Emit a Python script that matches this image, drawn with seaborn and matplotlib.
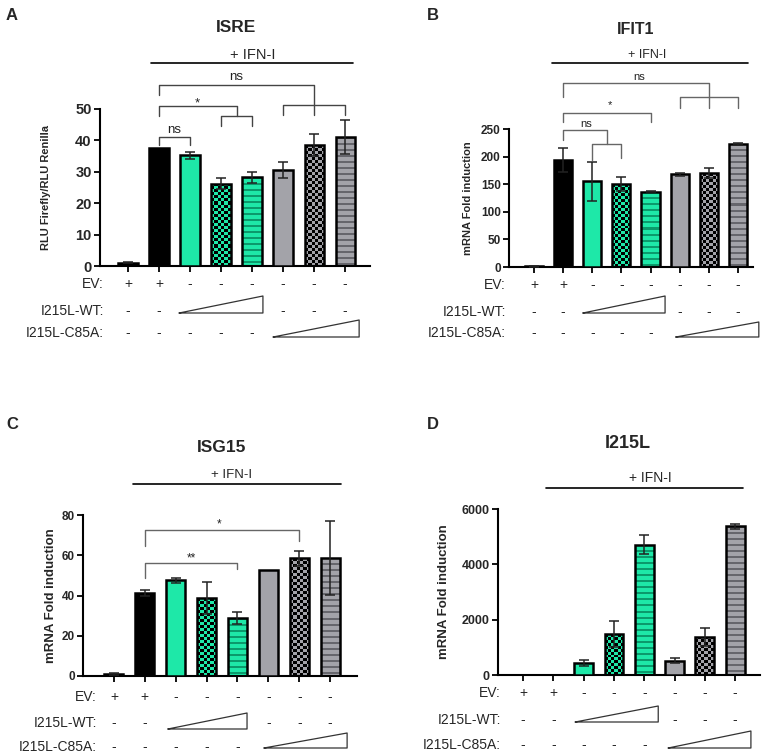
import numpy as np
import pandas as pd
import matplotlib
matplotlib.use("Agg")
import matplotlib.pyplot as plt
import matplotlib.transforms as mtransforms
from matplotlib.colors import ListedColormap
import seaborn as sns

# ---------------- data ----------------
groups = ["EV", "EV+IFN", "WT-1", "WT-2", "WT-3", "C85A-1", "C85A-2", "C85A-3"]

isre_mean = [1.0, 37.5, 35.2, 26.2, 28.2, 30.5, 38.5, 41.0]
isre_err = [0.2, 0.0, 1.0, 1.8, 1.8, 2.5, 3.5, 5.4]
ifit1_mean = [1.0, 194, 155, 150, 136, 168, 170, 223]
ifit1_err = [1.5, 21, 36, 13, 1, 3, 9, 2]
isg15_mean = [1.0, 41.2, 47.6, 38.6, 28.6, 52.6, 58.5, 58.8]
isg15_err = [0.4, 1.6, 1.3, 8.0, 3.0, 0.0, 3.8, 18.4]
i215l_mean = [0, 0, 430, 1480, 4710, 515, 1385, 5370]
i215l_err = [0, 0, 115, 455, 335, 95, 325, 80]

ev_signs = ["+", "+", "-", "-", "-", "-", "-", "-"]
wt_signs = ["-", "-", "", "", "", "-", "-", "-"]
c85a_signs = ["-", "-", "-", "-", "-", "", "", ""]
row_labels = ["EV:", "I215L-WT:", "I215L-C85A:"]

titles = ["ISRE", "IFIT1", "ISG15", "I215L"]
letters = ["A", "B", "C", "D"]
ylabels = ["RLU Firefly/RLU Renilla", "mRNA Fold induction",
           "mRNA Fold induction", "mRNA Fold induction"]
ifn_label = "+ IFN-I"

GREEN = "#1ee8a8"
GREEN_DARK = "#0b9a6c"
GRAY = "#a3a3a9"
GRAY_DARK = "#66666c"
bar_colors = ["#000000", "#000000", GREEN, GREEN, GREEN, GRAY, GRAY, GRAY]
dark_colors = ["#000000", "#000000", "#000000", "#000000", GREEN_DARK,
               "#000000", "#000000", GRAY_DARK]
patterns = ["", "", "", "checker", "stripes", "", "checker", "stripes"]

# ---------------- style ----------------
sns.set_theme(style="ticks")
plt.rcParams["font.family"] = ["Liberation Sans", "DejaVu Sans"]

W, H = 767, 753
fig = plt.figure(figsize=(W / 100, H / 100), dpi=100)


def fy(py):
    return 1 - py / H


panels = [
    dict(mean=isre_mean, err=isre_err, rect=(100, 370, 109, 266), xlim=(-0.9, 7.8),
         ylim=(0, 50), ystep=10, tick_fs=10.5, ylab_fs=8, ylab_x=51,
         title=(3.48, 27, 12.5), ifn=(4.03, 55, 0.74, 7.26, 63, 10.5),
         rows=(284, 311, 333), lab_x=-0.78, tri_wt=(1.65, 4.35, 313, 296),
         tri_c=(4.68, 7.45, 337, 320), letter=(12, 16),
         brackets=[([1, 1, 6, 6], [95, 85, 85, 115]),
                   ([5, 5, 7, 7], [115, 105, 105, 115]),
                   ([1, 1, 3.5, 3.5], [116, 106, 106, 116]),
                   ([3, 3, 4, 4], [126, 116, 116, 126]),
                   ([1, 1, 2, 2], [145, 137, 137, 145])],
         btexts=[("ns", 3.5, 77, 9.5), ("*", 2.23, 103, 9.5), ("ns", 1.5, 130, 9.5)],
         bcolor="#444444"),
    dict(mean=ifit1_mean, err=ifit1_err, rect=(509, 753, 129, 267), xlim=(-0.86, 7.52),
         ylim=(0, 250), ystep=50, tick_fs=8.5, ylab_fs=8, ylab_x=473,
         title=(3.5, 29, 11.5), ifn=(3.88, 55, 0.62, 7.34, 63, 9),
         rows=(285, 312, 333), lab_x=-0.96, tri_wt=(1.68, 4.5, 313, 296),
         tri_c=(4.87, 7.72, 337, 322), letter=(433, 16),
         brackets=[([1, 1, 6, 6], [97, 83, 83, 108]),
                   ([5, 5, 7, 7], [108, 97, 97, 108]),
                   ([1, 1, 4, 4], [122, 113, 113, 122]),
                   ([1, 1, 2.5, 2.5], [140, 130, 130, 144]),
                   ([2, 2, 3, 3], [160, 144, 144, 158])],
         btexts=[("ns", 3.6, 77, 8), ("*", 2.6, 105, 8), ("ns", 1.8, 124, 8)],
         bcolor="#666666"),
    dict(mean=isg15_mean, err=isg15_err, rect=(83, 357, 515, 676), xlim=(-1.0, 7.87),
         ylim=(0, 80), ystep=20, tick_fs=8.5, ylab_fs=9.5, ylab_x=57,
         title=(3.5, 447, 12.5), ifn=(3.82, 475, 0.62, 7.36, 484, 9.5),
         rows=(697, 723, 747), lab_x=-0.55, tri_wt=(1.75, 4.31, 729, 713),
         tri_c=(4.86, 7.55, 748, 733), letter=(12, 424),
         brackets=[([1, 1, 6, 6], [546, 530, 530, 541]),
                   ([1, 1, 4, 4], [578, 563, 563, 569])],
         btexts=[("*", 3.4, 524, 8.5), ("**", 2.5, 558, 8.5)],
         bcolor="#666666"),
    dict(mean=i215l_mean, err=i215l_err, rect=(498, 760, 509, 675), xlim=(-0.83, 7.82),
         ylim=(0, 6000), ystep=2000, tick_fs=9, ylab_fs=9.5, ylab_x=450,
         title=(3.47, 443, 13), ifn=(4.19, 478, 0.76, 7.26, 488, 10),
         rows=(693, 720, 745), lab_x=-0.73, tri_wt=(1.72, 4.46, 722, 706),
         tri_c=(4.79, 7.52, 748, 731), letter=(433, 424),
         brackets=[], btexts=[], bcolor="#666666"),
]


def fill_pattern(ax, patch, base, dark, kind):
    x0, y0 = patch.get_x(), patch.get_y()
    x1, y1 = x0 + patch.get_width(), y0 + patch.get_height()
    (px0, py0), (px1, py1) = ax.transData.transform([(x0, y0), (x1, y1)])
    wpx, hpx = abs(px1 - px0), abs(py1 - py0)
    if hpx < 1:
        return
    if kind == "checker":
        nx = max(1, int(round(wpx / 3.0)))
        ny = max(1, int(round(hpx / 3.0)))
        arr = np.add.outer(np.arange(ny), np.arange(nx)) % 2
    else:
        ny = max(1, int(round(hpx)))
        arr = ((np.arange(ny)[::-1] % 6) < 2).astype(int)[:, None] * np.ones((1, 2), int)
    im = ax.imshow(arr, extent=(x0, x1, y0, y1), origin="lower",
                   cmap=ListedColormap([base, dark]), vmin=0, vmax=1,
                   aspect="auto", interpolation="nearest", zorder=2)
    im.set_clip_path(patch)
    patch.set_facecolor("none")


for i, spec in enumerate(panels):
    l, r, t, b = spec["rect"]
    ax = fig.add_axes([l / W, 1 - b / H, (r - l) / W, (b - t) / H])
    df = pd.DataFrame({"group": groups, "value": spec["mean"]})
    sns.barplot(data=df, x="group", y="value", hue="group",
                palette=dict(zip(groups, bar_colors)), legend=False, ax=ax,
                width=0.62, edgecolor="black", linewidth=1.8, saturation=1,
                errorbar=None)
    ax.set_xlim(*spec["xlim"])
    ax.set_ylim(*spec["ylim"])

    bars = sorted(ax.patches, key=lambda p: p.get_x())
    centers = []
    for j, p in enumerate(bars):
        p.set_zorder(3)
        centers.append(p.get_x() + p.get_width() / 2)
        if patterns[j]:
            fill_pattern(ax, p, bar_colors[j], dark_colors[j], patterns[j])

    # error bars
    xs = [c for c, e in zip(centers, spec["err"]) if e > 0]
    ys = [m for m, e in zip(spec["mean"], spec["err"]) if e > 0]
    es = [e for e in spec["err"] if e > 0]
    ax.errorbar(xs, ys, yerr=es, fmt="none", ecolor="#222222", elinewidth=1.1,
                capsize=3.6, capthick=1.1, zorder=4)

    ax.set_xlim(*spec["xlim"])
    ax.set_ylim(*spec["ylim"])
    sns.despine(ax=ax)
    for s in ("left", "bottom"):
        ax.spines[s].set_linewidth(1.5)
        ax.spines[s].set_color("black")
    ax.set_xticks(range(len(groups)))
    ax.set_xticklabels([])
    yt = np.arange(0, spec["ylim"][1] + 1, spec["ystep"])
    ax.set_yticks(yt)
    ax.set_yticklabels([str(int(v)) for v in yt], fontweight="bold",
                       fontsize=spec["tick_fs"])
    ax.tick_params(axis="both", direction="out", length=4, width=1.3,
                   color="black", pad=2)
    ax.set_xlabel("")
    ax.set_ylabel(ylabels[i], fontweight="bold", fontsize=spec["ylab_fs"])
    ax.yaxis.set_label_coords((spec["ylab_x"] - l) / (r - l), 0.5)

    T = mtransforms.blended_transform_factory(ax.transData, fig.transFigure)

    # title, IFN line
    tx, ty, tfs = spec["title"]
    ax.text(tx, fy(ty), titles[i], transform=T, ha="center", va="center",
            fontweight="bold", fontsize=tfs)
    ix, iy, ia, ib, iyl, ifs = spec["ifn"]
    ax.text(ix, fy(iy), ifn_label, transform=T, ha="center", va="center",
            fontsize=ifs)
    ax.plot([ia, ib], [fy(iyl), fy(iyl)], transform=T, clip_on=False,
            color="black", lw=1.2)

    # significance brackets
    for bx, by in spec["brackets"]:
        ax.plot(bx, [fy(v) for v in by], transform=T, clip_on=False,
                color=spec["bcolor"], lw=1.0)
    for s, bx, by, bfs in spec["btexts"]:
        ax.text(bx, fy(by), s, transform=T, ha="center", va="center",
                fontsize=bfs, color="#222222")

    # condition table
    for row_y, lab, signs in zip(spec["rows"], row_labels,
                                 [ev_signs, wt_signs, c85a_signs]):
        ax.text(spec["lab_x"], fy(row_y), lab, transform=T, ha="right",
                va="center", fontsize=10)
        for j, s in enumerate(signs):
            if s:
                ax.text(j, fy(row_y), s, transform=T, ha="center", va="center",
                        fontsize=10)
    for xa, xb, yb, yt_ in (spec["tri_wt"], spec["tri_c"]):
        ax.plot([xa, xb, xb, xa], [fy(yb), fy(yb), fy(yt_), fy(yb)],
                transform=T, clip_on=False, color="#333333", lw=0.9)

    lx, ly = spec["letter"]
    fig.text(lx / W, fy(ly), letters[i], ha="center", va="center",
             fontweight="bold", fontsize=12)

fig.savefig("out.png", dpi=100)
